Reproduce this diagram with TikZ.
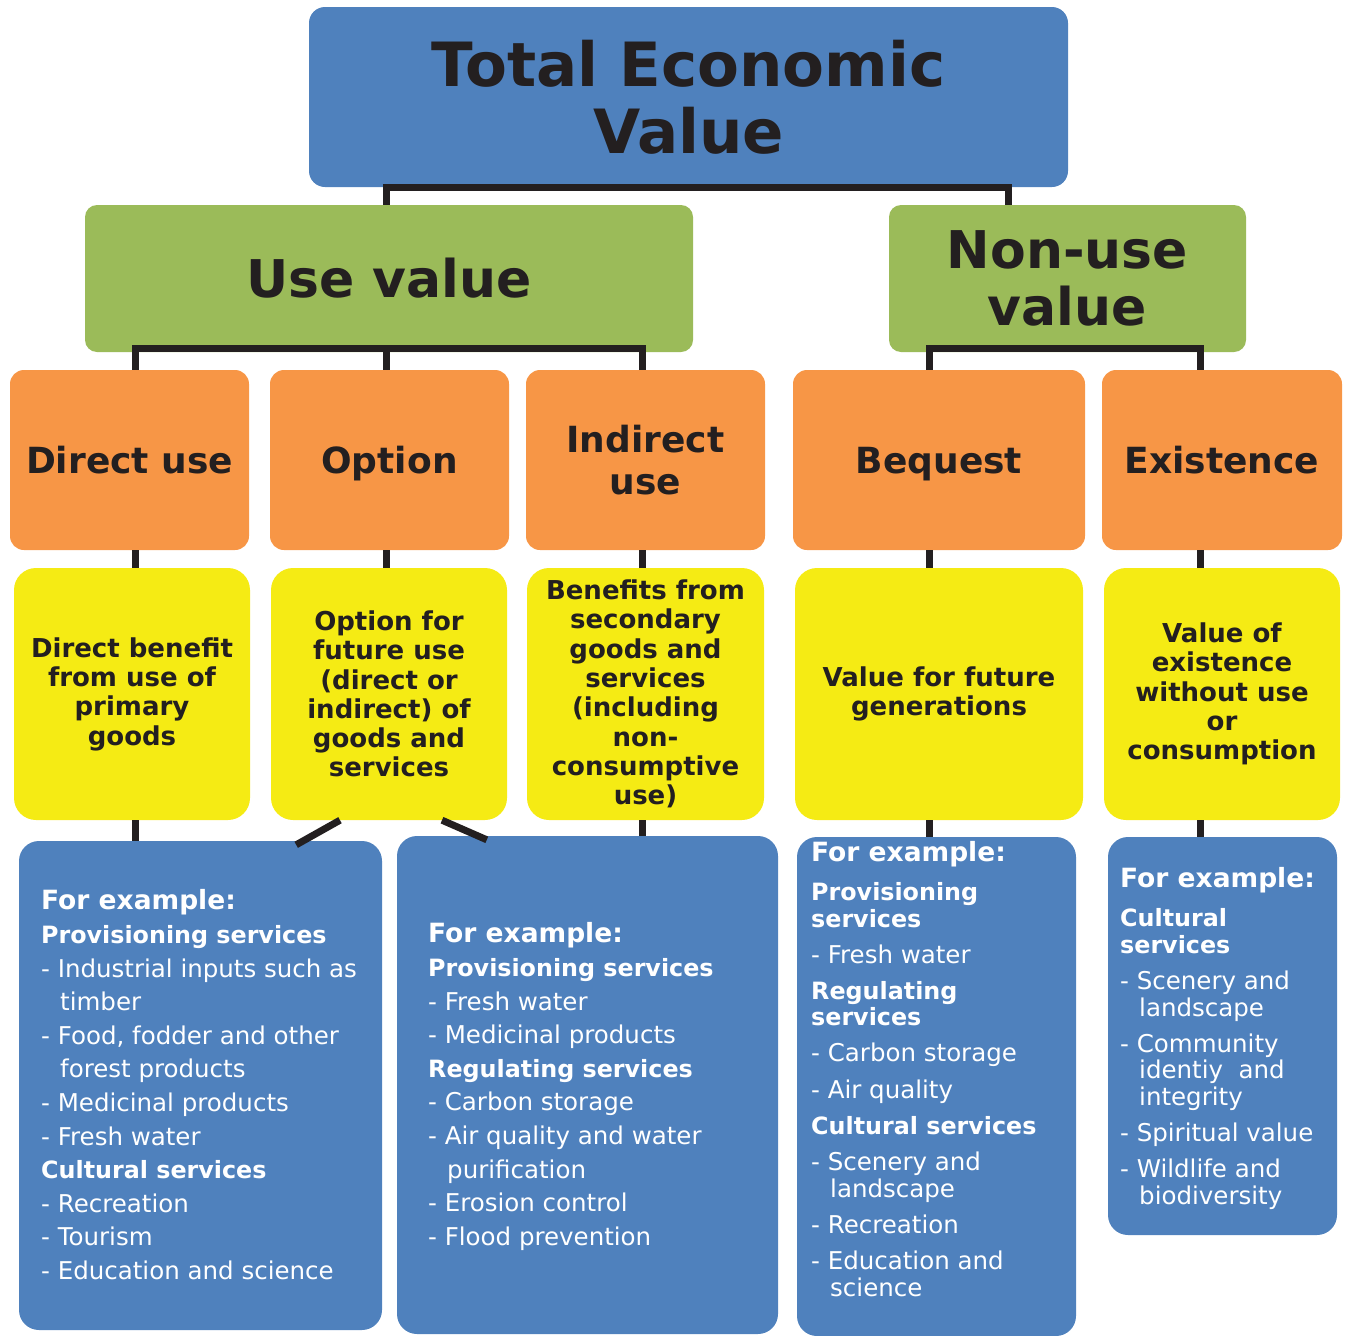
\documentclass[tikz,border=0pt]{standalone}
\usepackage{fontspec}
\setmainfont{DejaVu Sans}
\definecolor{tevblue}{HTML}{4F81BD}
\definecolor{valgreen}{HTML}{9BBB59}
\definecolor{typeorange}{HTML}{F79646}
\definecolor{descyellow}{HTML}{F5EB14}
\definecolor{inkblack}{HTML}{231F20}
\newcommand{\exhead}[1]{{\bfseries\fontsize{26.5}{26.5}\selectfont #1}}
\newcommand{\svc}[1]{{\bfseries\fontsize{23.8}{23.8}\selectfont #1}}
\newcommand{\cont}{\hspace*{19pt}}

\begin{document}
\begin{tikzpicture}[x=1pt,y=-1pt,
    link/.style={draw=inkblack, line width=7pt},
    tevbox/.style={fill=tevblue, rounded corners=16pt, inner sep=0pt, align=center, text=inkblack, font=\bfseries\fontsize{61}{67}\selectfont},
    valbox/.style={fill=valgreen, rounded corners=12pt, inner sep=0pt, align=center, text=inkblack, minimum height=147pt, font=\bfseries\fontsize{52}{57}\selectfont},
    typebox/.style={fill=typeorange, rounded corners=14pt, inner sep=0pt, align=center, text=inkblack, minimum height=180pt, font=\bfseries\fontsize{36}{42}\selectfont},
    descbox/.style={fill=descyellow, rounded corners=22pt, inner sep=0pt, align=center, text=inkblack, minimum height=252pt, font=\bfseries\fontsize{26}{29.3}\selectfont},
    egbox/.style={fill=tevblue, rounded corners=20pt, inner sep=0pt},
    egtext/.style={anchor=north west, inner sep=0pt, align=left, text=white, font=\fontsize{24.5}{#1}\selectfont},
    egtext/.default=33.6]

    \useasboundingbox (0,0) rectangle (1345,1336);

    % columns of the links
    \coordinate (c1) at (135,0);
    \coordinate (c2) at (386,0);
    \coordinate (c3) at (642,0);
    \coordinate (c4) at (929,0);
    \coordinate (c5) at (1200,0);
    \coordinate (tr) at (1008,0);

    %%% TOP
    \node[tevbox, minimum width=759pt, minimum height=180pt] (tev) at (688.5,97) {Total Economic\\Value};

    % Use / non-use
    \node[valbox, minimum width=608pt] (uv) at (389,278.5) {Use value};
    \node[valbox, minimum width=357pt] (nu) at (1067.5,278.5) {Non-use\\value};

    %%% VALUE TYPES
    \node[typebox, minimum width=239pt] (du) at (129.5,460) {Direct use};
    \node[typebox, minimum width=239pt, text depth=0pt] (op) at (389.5,460) {Option};
    \node[typebox, minimum width=239pt] (iu) at (645.5,460) {Indirect\\use};
    \node[typebox, minimum width=292pt, text depth=0pt] (bq) at (939,460) {Bequest};
    \node[typebox, minimum width=240pt] (ex) at (1222,460) {Existence};

    % Descriptions
    \node[descbox, minimum width=236pt] (dy) at (132,694) {Direct benefit\\from use of\\primary\\goods};
    \node[descbox, minimum width=236pt] (oy) at (389,694) {Option for\\future use\\(direct or\\indirect) of\\goods and\\services};
    \node[descbox, minimum width=237pt] (iy) at (645.5,694) {Benefits from\\secondary\\goods and\\services\\(including\\non-\\consumptive\\use)};
    \node[descbox, minimum width=288pt] (by) at (939,694) {Value for future\\generations};
    \node[descbox, minimum width=236pt] (ey) at (1222,694) {Value of\\existence\\without use\\or\\consumption};

    %%% EXAMPLES
    \node[egbox, minimum width=363pt, minimum height=489pt] (eg1) at (200.5,1085.5) {};
    \node[egbox, minimum width=381pt, minimum height=498pt] (eg2) at (587.5,1085) {};
    \node[egbox, minimum width=279pt, minimum height=499pt] (eg3) at (936.5,1086.5) {};
    \node[egbox, minimum width=229pt, minimum height=398pt] (eg4) at (1222.5,1036) {};

    \node[egtext] (eg1t) at (41,889.5) {\exhead{For example:}\\
        \svc{Provisioning services}\\
        - Industrial inputs such as\\
        \cont timber\\
        - Food, fodder and other\\
        \cont forest products\\
        - Medicinal products\\
        - Fresh water\\
        \svc{Cultural services}\\
        - Recreation\\
        - Tourism\\
        - Education and science};
    \node[egtext] (eg2t) at (428,922.5) {\exhead{For example:}\\
        \svc{Provisioning services}\\
        - Fresh water\\
        - Medicinal products\\
        \svc{Regulating services}\\
        - Carbon storage\\
        - Air quality and water\\
        \cont purification\\
        - Erosion control\\
        - Flood prevention};
    \node[egtext=26.5] (eg3t) at (811,841.5) {\exhead{For example:}\\[12.5pt]
        \svc{Provisioning}\\
        \svc{services}\\[9.5pt]
        - Fresh water\\[9.5pt]
        \svc{Regulating}\\
        \svc{services}\\[9.5pt]
        - Carbon storage\\[10pt]
        - Air quality\\[9.5pt]
        \svc{Cultural services}\\[10pt]
        - Scenery and\\
        \cont landscape\\[9.5pt]
        - Recreation\\[10pt]
        - Education and\\
        \cont science};
    \node[egtext=26.5] (eg4t) at (1120,867.5) {\exhead{For example:}\\[12.5pt]
        \svc{Cultural}\\
        \svc{services}\\[10pt]
        - Scenery and\\
        \cont landscape\\[9.5pt]
        - Community\\
        \cont identiy\ \ and\\
        \cont integrity\\[9.5pt]
        - Spiritual value\\[10pt]
        - Wildlife and\\
        \cont biodiversity};

    %%% LINKS
    \draw[link] (uv.north -| c2) |- (tev.south) -| (nu.north -| tr);
    \draw[link] (du.north -| c1) |- ([yshift=4pt]uv.south) -| (iu.north -| c3);
    \draw[link] (op.north -| c2) -- (uv.south -| c2);
    \draw[link] (bq.north -| c4) |- ([yshift=4pt]nu.south) -| (ex.north -| c5);

    \foreach \a/\b/\c in {du/dy/c1, op/oy/c2, iu/iy/c3, bq/by/c4, ex/ey/c5}
        \draw[link] (\a.south -| \c) -- (\b.north -| \c);
    \foreach \a/\b/\c in {dy/eg1/c1, iy/eg2/c3, by/eg3/c4, ey/eg4/c5}
        \draw[link] (\a.south -| \c) -- (\b.north -| \c);

    % option splits in two
    \draw[link] ([xshift=-49pt]oy.south) -- ([xshift=-86pt,yshift=-4pt]eg1.north east);
    \draw[link] ([xshift=53pt]oy.south) -- ([xshift=90pt,yshift=-4pt]eg2.north west);
\end{tikzpicture}
\end{document}
